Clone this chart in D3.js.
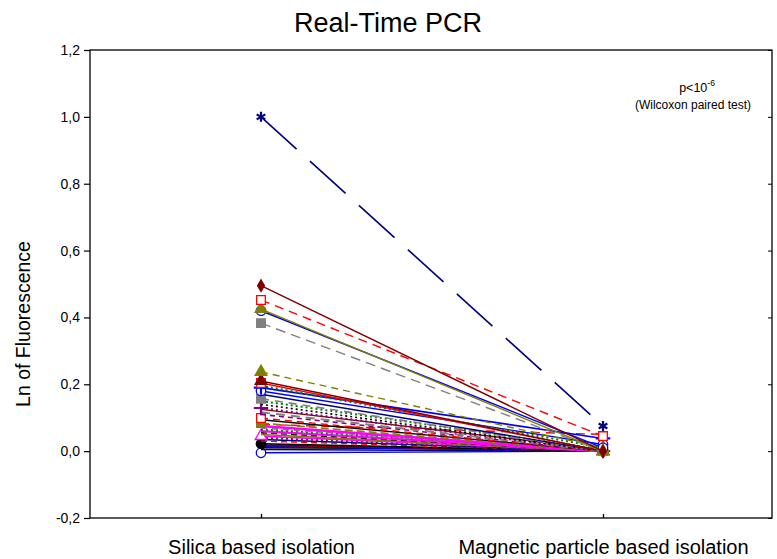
<!DOCTYPE html>
<html><head><meta charset="utf-8">
<script src="https://cdn.jsdelivr.net/npm/d3@7"></script>
<style>body{margin:0;background:#fff}svg{display:block;font-family:"Liberation Sans",Arial,sans-serif}</style>
</head><body><svg id="c" width="777" height="559"></svg>
<script>
const categories = ["Silica based isolation", "Magnetic particle based isolation"];
const yTicks = [-0.2, 0, 0.2, 0.4, 0.6, 0.8, 1.0, 1.2];
const silica   = [1.00, 0.495, 0.452, 0.425, 0.420, 0.383, 0.237, 0.210, 0.204, 0.196, 0.190, 0.180, 0.170, 0.157, 0.150, 0.140, 0.129, 0.125, 0.116, 0.110, 0.099, 0.094, 0.084, 0.080, 0.075, 0.070, 0.065, 0.060, 0.055, 0.050, 0.045, 0.040, 0.035, 0.030, 0.022, 0.018, 0.014, 0.010, 0.005, -0.005];
const magnetic = [0.075, 0.000, 0.045, 0.000, 0.010, 0.000, 0.010, 0.000, 0.000, 0.010, 0.038, 0.020, 0.000, 0.000, 0.005, 0.000, 0.000, 0.005, 0.000, 0.000, 0.000, 0.000, 0.000, 0.050, 0.000, 0.000, 0.005, 0.000, 0.000, 0.000, 0.000, 0.000, 0.000, 0.000, 0.000, 0.000, 0.000, 0.005, 0.000, 0.000];
// styles per series: [color, dasharray, marker, filled, width]
const seriesStyles = [
 ["#000080","48,18","asterisk",true,1.6],
 ["#800000","","diamond",true,1.4],
 ["#FF0000","9,6","square",false,1.4],
 ["#808000","","triangle",true,1.4],
 ["#0000FF","","circle",false,1.4],
 ["#808080","10,6","square",true,1.4],
 ["#808000","7,5","triangle",true,1.4],
 ["#800000","","triangle",true,1.4],
 ["#FF0000","","square",false,1.4],
 ["#008000","2,3","none",true,2],
 ["#0000FF","","plus",true,1.6],
 ["#0000FF","","circle",false,1.4],
 ["#000080","","none",true,1.4],
 ["#808080","8,6","square",true,1.6],
 ["#008000","2,3","none",true,2],
 ["#000000","2,3","none",true,1.6],
 ["#800080","2,3","plus",true,2],
 ["#800000","","none",true,1.4],
 ["#808080","9,6","none",true,2],
 ["#800080","5,4","none",true,1.6],
 ["#FF0000","7,5","square",false,1.4],
 ["#000000","","none",true,1.4],
 ["#808000","8,4","square",true,1.6],
 ["#FF0000","9,6","none",true,1.4],
 ["#FF00FF","","none",true,2.6],
 ["#808080","6,5","none",true,2],
 ["#008000","2,3","none",true,2],
 ["#FF00FF","","none",true,2.2],
 ["#000000","6,4","none",true,1.4],
 ["#808000","","none",true,1.6],
 ["#FF00FF","","triangle",false,1.6],
 ["#800080","2,3","none",true,2],
 ["#000080","","none",true,1.6],
 ["#FF0000","6,4","none",true,1.4],
 ["#000000","","circle",true,1.6],
 ["#800000","","none",true,1.6],
 ["#0000FF","","none",true,1.8],
 ["#000000","","none",true,1.6],
 ["#000080","","none",true,1.6],
 ["#0000FF","","circle",false,1.4]
];

const svg = d3.select("#c");
const L = 90, R = 772, T = 50, B = 518;
const y = d3.scaleLinear().domain([-0.2, 1.2]).range([B, T]);
const xs = d3.scalePoint().domain(categories).range([261, 603]);
const FONT = '"Liberation Sans",Arial,sans-serif';

// title
svg.append("text").attr("x", 388).attr("y", 32).attr("text-anchor", "middle")
  .attr("font-size", 27).text("Real-Time PCR");

// frame
svg.append("rect").attr("x", L).attr("y", T).attr("width", R - L).attr("height", B - T)
  .attr("fill", "none").attr("stroke", "#000").attr("stroke-width", 1.3);

// left axis
const yAxis = d3.axisLeft(y).tickValues(yTicks).tickSize(6).tickPadding(4)
  .tickFormat(d => d3.format(".1f")(d).replace(".", ",").replace("−", "-"));
const ga = svg.append("g").attr("transform", `translate(${L},0)`).call(yAxis);
ga.select(".domain").remove();
ga.selectAll("text").attr("font-size", 14).attr("font-family", FONT).attr("fill", "#000");
ga.selectAll("line").attr("stroke-width", 1.2);
// right mirrored ticks (inward)
const gr = svg.append("g").attr("transform", `translate(${R},0)`).call(d3.axisRight(y).tickValues(yTicks).tickSize(-4).tickFormat(""));
gr.select(".domain").remove();
// bottom ticks (inward)
const gb = svg.append("g").attr("transform", `translate(0,${B})`)
  .call(d3.axisBottom(xs).tickSize(-4).tickPadding(16));
gb.select(".domain").remove();
gb.selectAll("line").attr("stroke-width", 1.3);
gb.selectAll("text").attr("font-size", 20).attr("font-family", FONT).attr("fill", "#000").attr("dy", "1em");

// y label
svg.append("text").attr("transform", "translate(30,324) rotate(-90)").attr("text-anchor", "middle")
  .attr("font-size", 19.5).text("Ln of Fluorescence");

// annotation
const ann = svg.append("text").attr("x", 697).attr("y", 92).attr("text-anchor", "middle").attr("font-size", 12.5);
ann.append("tspan").text("p<10");
ann.append("tspan").attr("dy", -6).attr("font-size", 8.5).text("-6");
svg.append("text").attr("x", 693).attr("y", 109).attr("text-anchor", "middle").attr("font-size", 12).text("(Wilcoxon paired test)");

const series = silica.map((v, i) => ({vals: [v, magnetic[i]], st: seriesStyles[i]}));
const line = d3.line().x((d, j) => xs(categories[j])).y(d => y(d));
const plot = svg.append("g");
const symMap = {
  asterisk: d3.symbolAsterisk || d3.symbolCross, diamond: d3.symbolDiamond, square: d3.symbolSquare,
  triangle: d3.symbolTriangle, circle: d3.symbolCircle, plus: d3.symbolPlus || d3.symbolCross
};
series.slice().reverse().forEach(s => {
  const [col, dash, mk, filled, w] = s.st;
  plot.append("path").attr("d", line(s.vals)).attr("fill", "none").attr("stroke", col)
    .attr("stroke-width", w).attr("stroke-dasharray", dash || null);
  if (mk !== "none") {
    const strokeOnly = (mk === "asterisk" || mk === "plus");
    const size = mk === "square" ? 75 : mk === "circle" ? 70 : mk === "triangle" ? 60 : mk === "diamond" ? 40 : 70;
    s.vals.forEach((v, j) => {
      plot.append("path").attr("d", d3.symbol().type(symMap[mk]).size(size)())
        .attr("transform", `translate(${xs(categories[j])},${y(v)})`)
        .attr("fill", strokeOnly ? "none" : (filled ? col : "#fff"))
        .attr("stroke", col).attr("stroke-width", strokeOnly ? 2.2 : 1.3);
    });
  }
});
</script></body></html>
